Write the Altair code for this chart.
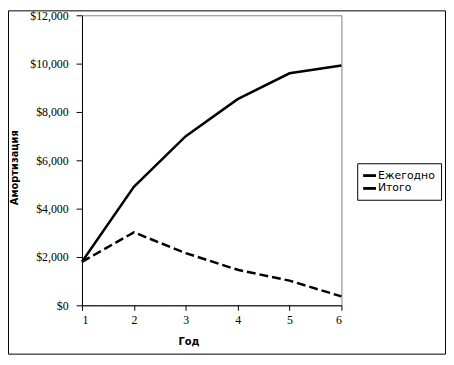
import altair as alt
import pandas as pd

years = [1, 2, 3, 4, 5, 6]
annual = [1800, 3020, 2160, 1470, 1020, 370]
total = [1800, 4900, 7000, 8530, 9600, 9920]
series = ["Ежегодно", "Итого"]
y_ticks = [0, 2000, 4000, 6000, 8000, 10000, 12000]

df_annual = pd.DataFrame({"Год": years, "value": annual, "series": series[0]})
df_total = pd.DataFrame({"Год": years, "value": total, "series": series[1]})

PW, PH = 263, 294
PAD = {"left": 75, "top": 5, "right": 106, "bottom": 50}

x_enc = alt.X("Год:Q",
              scale=alt.Scale(domain=[1, 6], nice=False, zero=False),
              axis=alt.Axis(values=years, format="d", title="Год", tickSize=5,
                            labelPadding=4, titleX=108, titleY=40,
                            titleBaseline="alphabetic", titleAlign="center"))
y_enc = alt.Y("value:Q",
              scale=alt.Scale(domain=[0, 12000], nice=False),
              axis=alt.Axis(values=y_ticks, format="$,.0f", title="Амортизация",
                            tickSize=6, labelPadding=8, titleX=-68, titleY=154,
                            titleAngle=-90, titleBaseline="middle", titleAlign="center"))

total_line = alt.Chart(df_total).mark_line(strokeWidth=2.5).encode(
    x=x_enc, y=y_enc,
    color=alt.Color("series:N",
                    scale=alt.Scale(domain=series, range=["black", "black"]),
                    legend=alt.Legend(title=None, orient="none", legendX=279, legendY=150,
                                      strokeColor="black", padding=6, rowPadding=1,
                                      symbolType="M-1,-0.22H1V0.22H-1Z",
                                      symbolFillColor="black", symbolStrokeWidth=0,
                                      symbolSize=169, labelOffset=2,
                                      labelFont="DejaVu Sans", labelFontSize=11,
                                      labelColor="black")),
)

annual_line = alt.Chart(df_annual).mark_line(
    strokeWidth=2.5, color="black", strokeDash=[9, 4]
).encode(x=x_enc, y=y_enc)

frame = alt.Chart(pd.DataFrame({"a": [0]})).mark_rect(
    fillOpacity=0, stroke="black", strokeWidth=1
).encode(
    x=alt.value(-PAD["left"] + 0.5),
    x2=alt.value(PW + PAD["right"] - 0.5),
    y=alt.value(-PAD["top"] + 0.5),
    y2=alt.value(PH + PAD["bottom"] - 0.5),
)

chart = alt.layer(total_line, annual_line, frame).properties(
    width=PW, height=PH,
    autosize=alt.AutoSizeParams(type="none"),
    padding=PAD,
).configure_view(
    stroke="#808080", strokeWidth=1
).configure_axis(
    grid=False,
    labelFont="Liberation Serif", labelFontSize=12, labelColor="black",
    tickColor="black", domainColor="black", domainWidth=1, tickWidth=1,
    titleFont="DejaVu Sans", titleFontSize=10, titleFontWeight="bold", titleColor="black",
)

chart.save("out.html", embed_options={"renderer": "svg", "actions": False})
